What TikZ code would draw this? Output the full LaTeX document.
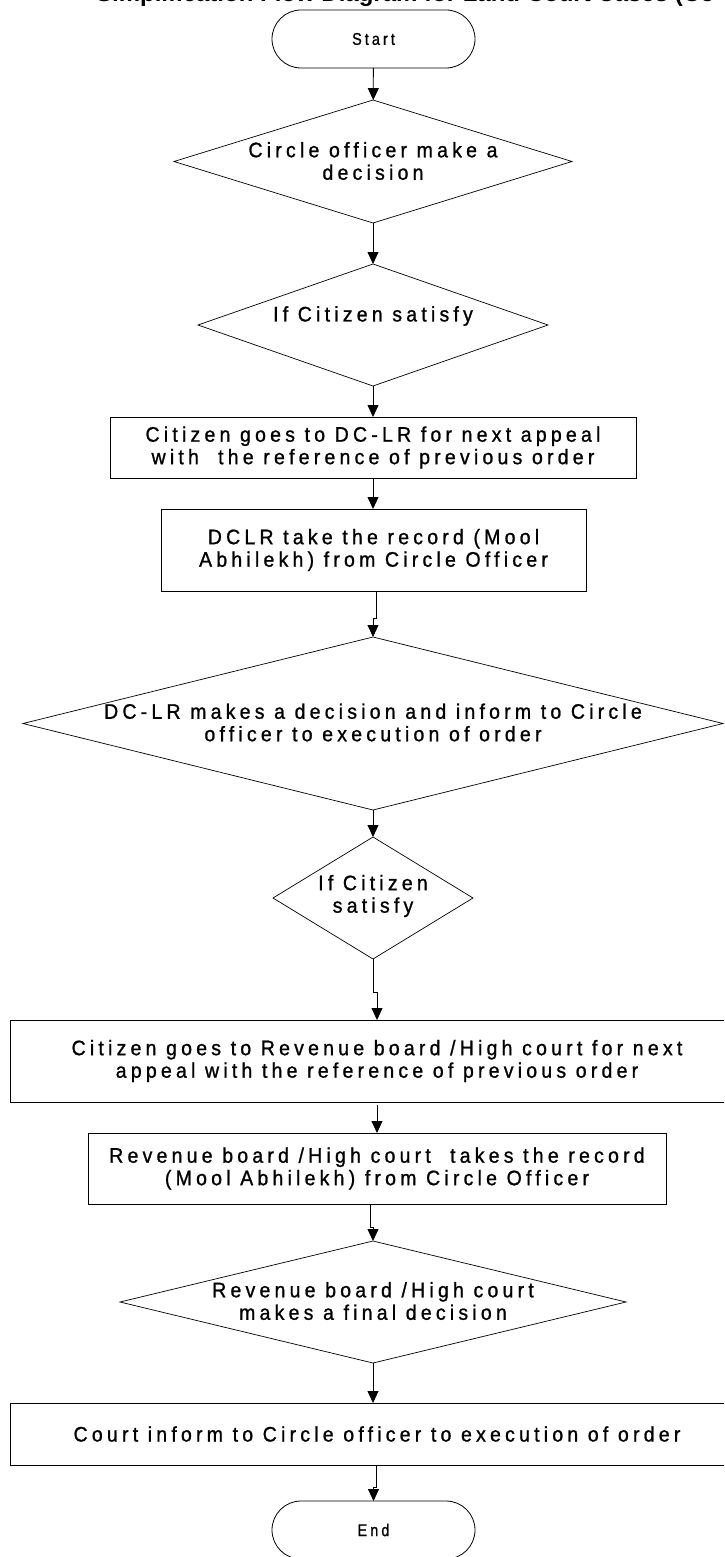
\documentclass[tikz,border=0pt]{standalone}
\usepackage{fontspec}
\setmainfont{Liberation Sans}[LetterSpace=20, FakeStretch=0.93, FakeBold=1]
\newfontfamily\headfont{Liberation Sans}
\newfontfamily\termfont{Liberation Sans}[LetterSpace=18, FakeStretch=0.85, FakeBold=1]
\usetikzlibrary{arrows.meta,shapes.geometric}

\tikzset{
  flow/.style={draw, line width=0.8pt, -{Triangle[length=12pt,width=11pt]}},
  stepbox/.style={draw, line width=0.9pt, inner sep=0pt, outer sep=0pt, align=center,
    font=\fontsize{21}{22.5}\selectfont},
  terminal/.style={draw, line width=0.8pt, rounded corners=29pt, minimum width=203pt,
    minimum height=58pt, inner sep=0pt, outer sep=0pt, font=\termfont\fontsize{17}{18}\selectfont},
  decision/.style={draw, diamond, line width=0.7pt, inner sep=0pt, outer sep=0pt},
  dtext/.style={align=center, inner sep=0pt, font=\fontsize{21}{22.5}\selectfont}
}

\begin{document}
\begin{tikzpicture}[x=1pt,y=-1pt]
\useasboundingbox (0,0) rectangle (724,1557);
\clip (0,0) rectangle (724,1557);

% heading, running off the top of the page
\node[anchor=base east, inner sep=0pt, font=\headfont\bfseries\fontsize{24}{28}\selectfont]
  (title) at (715,2) {Simplification Flow Diagram for Land Court Cases (Co};

% nodes
\node[terminal] (start) at (373.5,39) {Start};

\node[decision, minimum width=398pt, minimum height=123pt] (d1) at (373,161.5) {};
\node[dtext] (d1t) at (373,161) {Circle officer make a\\decision};

\node[decision, minimum width=350pt, minimum height=122pt] (d2) at (373,325) {};
\node[dtext] (d2t) at (373,316) {If Citizen satisfy};

\node[stepbox, minimum width=526pt, minimum height=61pt] (b1) at (373,447.5)
  {Citizen goes to DC-LR for next appeal\\with\ \ the reference of previous order};

\node[stepbox, minimum width=425pt, minimum height=82pt] (b2) at (373.5,550)
  {DCLR take the record (Mool\\Abhilekh) from Circle Officer};

\node[decision, minimum width=700pt, minimum height=173pt] (d3) at (373,723.5) {};
\node[dtext] (d3t) at (373,722.5) {DC-LR makes a decision and inform to Circle\\officer to execution of order};

\node[decision, minimum width=200pt, minimum height=122pt] (d4) at (373,898) {};
\node[dtext] (d4t) at (373,896) {If Citizen\\satisfy};

\node[stepbox, minimum width=734pt, minimum height=82pt] (b3) at (377,1061)
  {Citizen goes to Revenue board /High court for next\\appeal with the reference of previous order};

\node[stepbox, minimum width=578pt, minimum height=71pt] (b4) at (377,1168.5)
  {Revenue board /High court\ \ takes the record\\(Mool Abhilekh) from Circle Officer};

\node[decision, minimum width=506pt, minimum height=122pt] (d5) at (373,1302) {};
\node[dtext] (d5t) at (373,1301) {Revenue board /High court\\makes a final decision};

\node[stepbox, minimum width=734pt, minimum height=62pt] (b5) at (377,1434)
  {Court inform to Circle officer to execution of order};

\node[terminal] (end) at (373.5,1530) {End};

% connectors
\draw[flow] (start) -- (d1);
\draw[flow] (d1) -- (d2);
\draw[flow] (d2) -- (d2.south |- b1.north);
\draw[flow] (b1) -- (b1.south |- b2.north);
\draw[flow] ([xshift=3pt]b2.south) -- ++(0,27) -| (d3.north);
\draw[flow] (d3) -- (d4);
\draw[flow] (d4.south) -- ++(0,33) -| (b3.north);
\draw[flow, shorten <=3pt] (b3) -- (b4);
\draw[flow] ([xshift=-7pt]b4.south) -- ++(0,23) -| (d5.north);
\draw[flow] (d5.south) -- (d5.south |- b5.north);
\draw[flow] ([xshift=-1pt]b5.south) -- ++(0,22) -| (end.north);
\end{tikzpicture}
\end{document}
